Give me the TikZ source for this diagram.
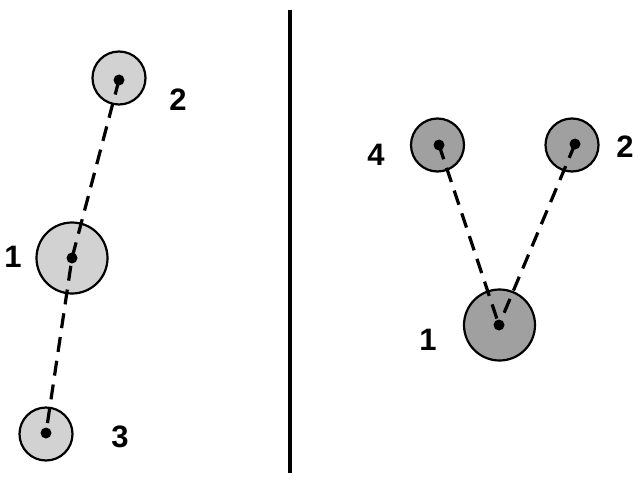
\documentclass[tikz,border=0pt]{standalone}
\usepackage{fontspec}
\setmainfont{Liberation Sans}
\usepackage{xcolor}
\definecolor{lightdisc}{HTML}{D2D2D2}
\definecolor{darkdisc}{HTML}{A0A0A0}

\begin{document}
\begin{tikzpicture}[
    x=1pt,y=-1pt,
    disc/.style={
        circle,draw,line width=2.2pt,
        inner sep=0pt
    },
    smalldisc/.style={disc,minimum size=53pt},
    bigdisc/.style={disc,minimum size=71pt},
    dot/.style={circle,fill=black,inner sep=0pt,minimum size=11pt},
    link/.style={line width=3.2pt,dash pattern=on 15pt off 9pt},
    lbl/.style={font=\fontsize{31}{31}\selectfont\bfseries}
]
\useasboundingbox (0,0) rectangle (644,484);

% left group
\node[smalldisc,fill=lightdisc] (a2) at (119,78) {};
\node[bigdisc,fill=lightdisc] (a1) at (72,258) {};
\node[smalldisc,fill=lightdisc] (a3) at (46,434) {};
\node[dot] (da2) at (119,80) {};
\node[dot] (da1) at (72,258) {};
\node[dot] (da3) at (46,433) {};
\draw[link] (da2.center) -- (da1.center) -- (da3.center);
\node[lbl] (la2) at (178,100) {2};
\node[lbl] (la1) at (13,257) {1};
\node[lbl] (la3) at (120,437) {3};

% divider
\coordinate (top) at (290,10);
\coordinate (bottom) at (290,473);
\draw[line width=3.6pt] (top) -- (bottom);

% right group
\node[smalldisc,fill=darkdisc] (b4) at (437.5,145) {};
\node[smalldisc,fill=darkdisc] (b2) at (572,145) {};
\node[bigdisc,fill=darkdisc] (b1) at (499.5,325) {};
\node[dot] (db4) at (439,145) {};
\node[dot] (db2) at (575,144) {};
\node[dot] (db1) at (499,325) {};
\draw[link] (db4.center) -- (db1.center);
\draw[link] (db2.center) -- (db1.center);
\node[lbl] (lb4) at (376,155) {4};
\node[lbl] (lb2) at (625,147) {2};
\node[lbl] (lb1) at (428,340) {1};
\end{tikzpicture}
\end{document}
